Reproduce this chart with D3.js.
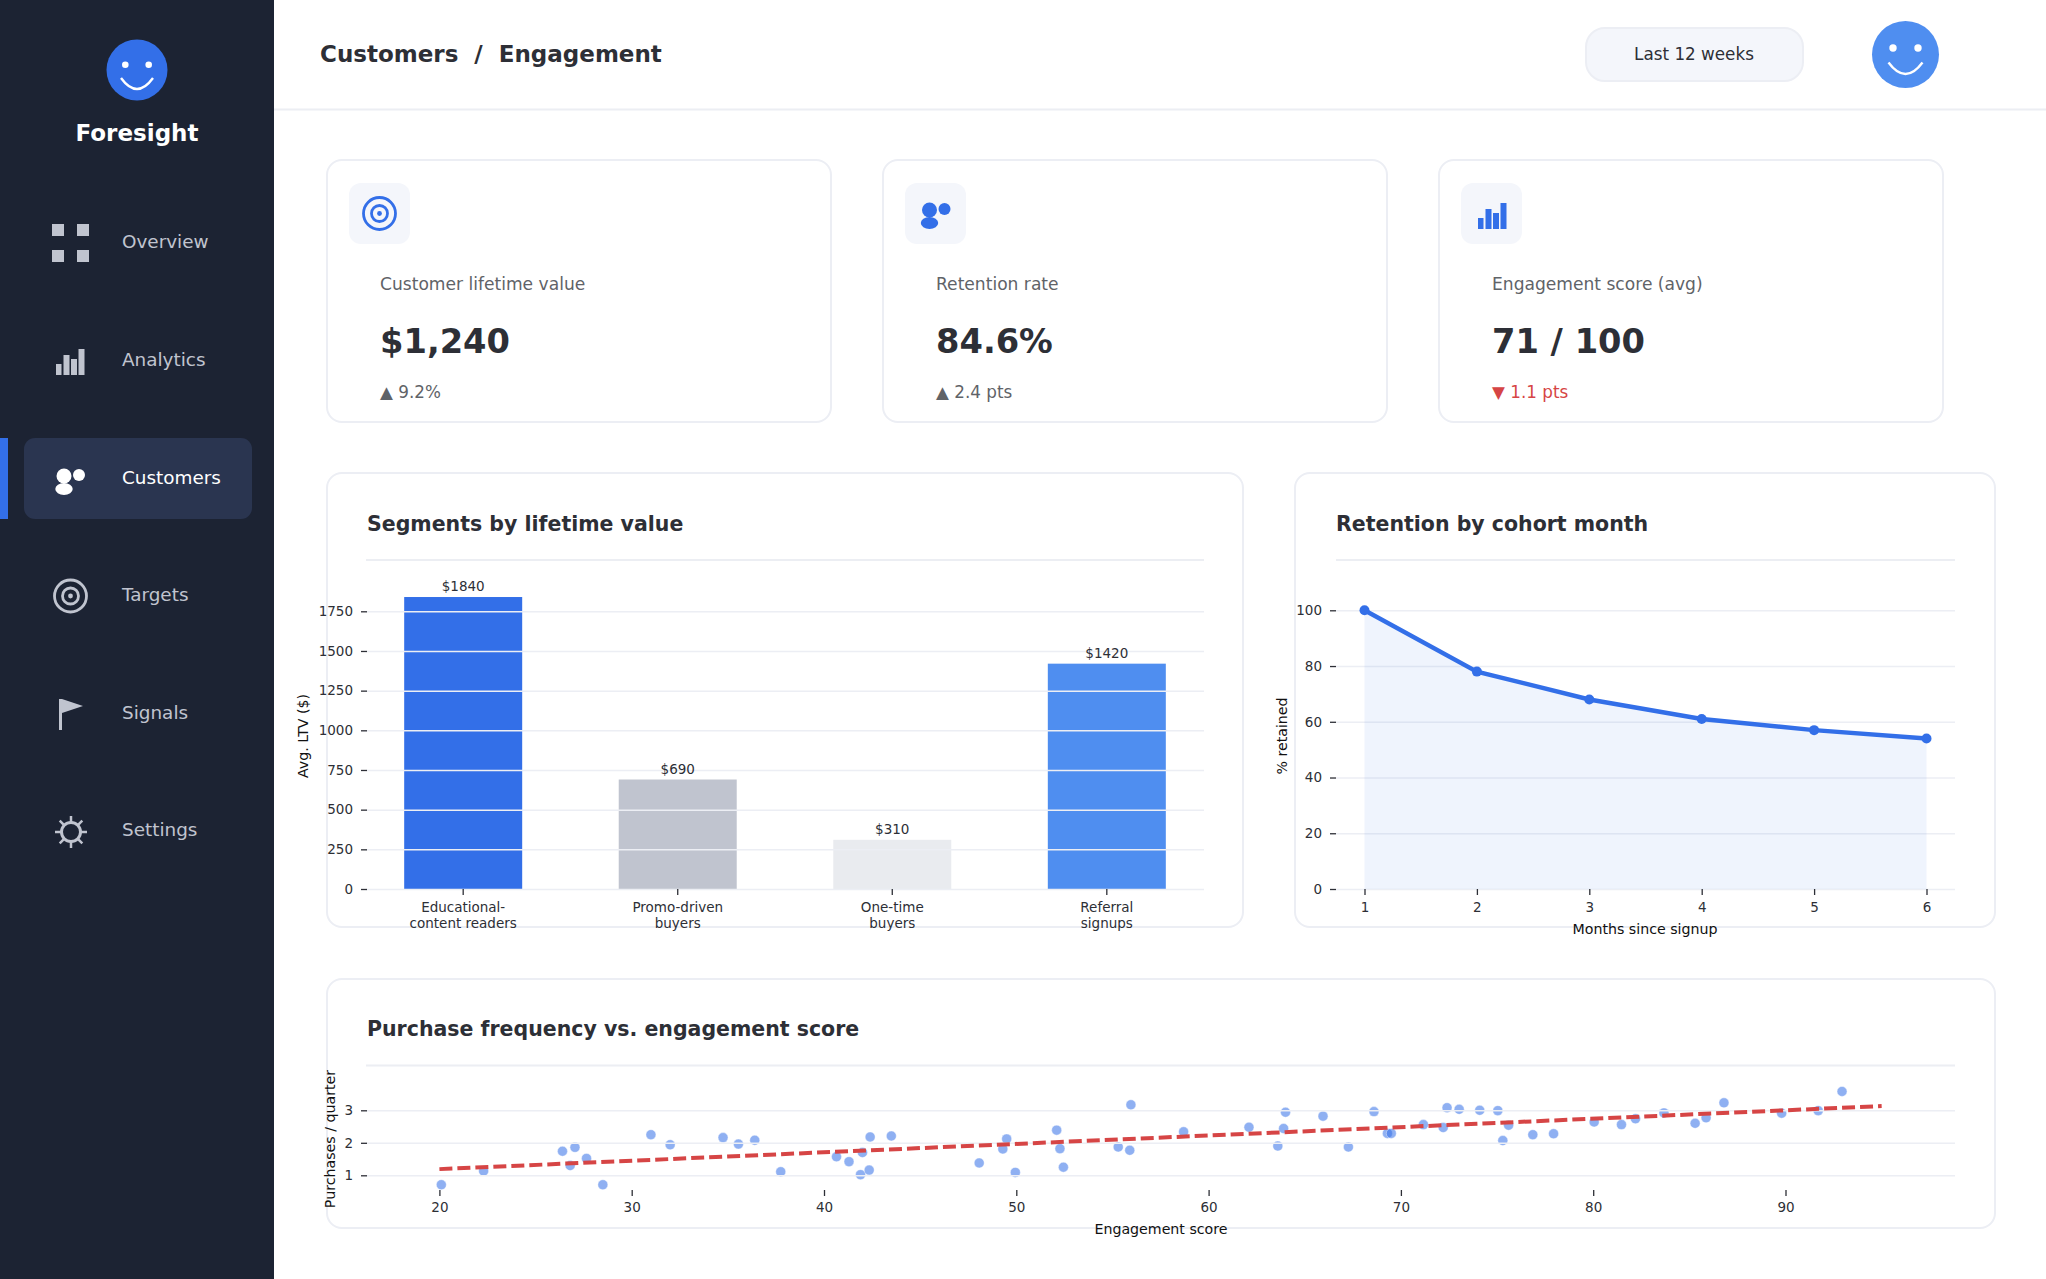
<!DOCTYPE html>
<html>
<head>
<meta charset="utf-8">
<title>Foresight - Customers / Engagement</title>
<script src="https://cdn.jsdelivr.net/npm/d3@7"></script>
<style>
	html, body { margin: 0; padding: 0; background: #fff; overflow: hidden; }
	svg { display: block; font-family: "DejaVu Sans", sans-serif; }
	.domain { display: none; }
	.axis { font-family: "DejaVu Sans", sans-serif; }
	.axis text { fill: #2d2f36; font-size: 13.5px; }
	.axis line { stroke: #2d2f36; stroke-width: 1.3; }
	.grid line { stroke: #eceef4; stroke-width: 1.5; }
	.grid text { display: none; }
	.axis-title { fill: #111; font-size: 14.2px; text-anchor: middle; }
</style>
</head>
<body>
<svg id="page" width="2046" height="1279"></svg>
<script>
//params
var BLUE = "#336fe8";
var LIGHT_BLUE = "#4f8ef0";
var SIDE_BG = "#1c2333";
var SIDE_TEXT = "#c0c4cf";
var INK = "#2d2f36";
var BORDER = "#eceef4";
var RED = "#d64545";

// kpi cards
var kpi_labels = ["Customer lifetime value", "Retention rate", "Engagement score (avg)"];
var kpi_values = ["$1,240", "84.6%", "71 / 100"];
var kpi_deltas = ["\u25B2 9.2%", "\u25B2 2.4 pts", "\u25BC 1.1 pts"];

// sidebar
var nav_labels = ["Overview", "Analytics", "Customers", "Targets", "Signals", "Settings"];

// segments chart
var segment_names = [["Educational-", "content readers"], ["Promo-driven", "buyers"], ["One-time", "buyers"], ["Referral", "signups"]];
var segment_ltv = [1840, 690, 310, 1420];
var segment_colors = [BLUE, "#c0c4cf", "#e9ebef", LIGHT_BLUE];
var ltv_ticks = [0, 250, 500, 750, 1000, 1250, 1500, 1750];

// retention chart
var months = [1, 2, 3, 4, 5, 6];
var retained = [100, 78, 68, 61, 57, 54];
var retained_ticks = [0, 20, 40, 60, 80, 100];

// scatter chart
var engagement = [20.1, 22.3, 26.4, 26.8, 27.05, 27.65, 28.5, 31.0, 32.0, 34.75, 35.55, 36.4, 37.75, 40.65, 41.3, 41.9, 42.0, 42.4, 42.35, 43.5,
	48.07, 49.3, 49.5, 49.95, 52.1, 52.27, 52.45, 55.3, 55.9, 55.96, 58.7, 62.1, 63.6, 63.9, 64.0, 65.95, 67.27, 68.6, 69.3, 69.5,
	71.17, 72.2, 72.4, 73.03, 74.1, 75.04, 75.3, 75.6, 76.86, 77.94, 80.05, 81.47, 82.2, 83.68, 85.3, 85.87, 86.8, 89.8, 91.7, 92.94];
var purchases = [0.71, 1.13, 1.74, 1.30, 1.86, 1.52, 0.71, 2.25, 1.94, 2.16, 1.96, 2.08, 1.11, 1.57, 1.42, 1.02, 1.70, 2.18, 1.16, 2.21,
	1.38, 1.81, 2.12, 1.09, 2.39, 1.82, 1.25, 1.87, 1.77, 3.17, 2.34, 2.48, 1.90, 2.44, 2.94, 2.82, 1.87, 2.96, 2.29, 2.29,
	2.56, 2.47, 3.08, 3.03, 3.00, 2.99, 2.07, 2.54, 2.25, 2.28, 2.64, 2.56, 2.74, 2.92, 2.60, 2.77, 3.23, 2.91, 2.99, 3.58];
var trend_x = [20, 95];
var trend_y = [1.19, 3.13];
var engagement_ticks = [20, 30, 40, 50, 60, 70, 80, 90];
var purchase_ticks = [1, 2, 3];

var svg = d3.select("#page");

function add_text(parent, x, y, str, size, color, weight, anchor)
{
	return parent.append("text")
		.attr("x", x)
		.attr("y", y)
		.attr("font-size", size)
		.attr("fill", color)
		.attr("font-weight", weight || "normal")
		.attr("text-anchor", anchor || "start")
		.attr("dominant-baseline", "alphabetic")
		.text(str);
}

function add_rect(parent, x0, y0, x1, y1, fill)
{
	return parent.append("rect")
		.attr("x", x0).attr("y", y0)
		.attr("width", x1 - x0).attr("height", y1 - y0)
		.attr("fill", fill);
}

function smiley(cx, cy, r, color, eye_dx, eye_dy, eye_r, smile_dx, smile_dy, smile_drop)
{
	var g = svg.append("g").attr("transform", "translate(" + cx + "," + cy + ")");
	g.append("circle").attr("r", r).attr("fill", color);
	g.append("circle").attr("cx", -eye_dx).attr("cy", eye_dy).attr("r", eye_r).attr("fill", "#fff");
	g.append("circle").attr("cx", eye_dx).attr("cy", eye_dy).attr("r", eye_r).attr("fill", "#fff");
	g.append("path")
		.attr("d", "M" + (-smile_dx) + "," + smile_dy + "Q0," + (smile_dy + smile_drop * 2) + " " + smile_dx + "," + smile_dy)
		.attr("fill", "none").attr("stroke", "#fff").attr("stroke-width", 2.4);
}

// small icons, used both in the sidebar and the kpi cards
function icon_target(cx, cy, color)
{
	var g = svg.append("g");
	[16, 8].forEach(function(r){
		g.append("circle").attr("cx", cx).attr("cy", cy).attr("r", r)
			.attr("fill", "none").attr("stroke", color).attr("stroke-width", 2.8);
	});
	g.append("circle").attr("cx", cx).attr("cy", cy).attr("r", 2.4).attr("fill", color);
}

function icon_people(cx, cy, color)
{
	var g = svg.append("g").attr("fill", color);
	g.append("circle").attr("cx", cx).attr("cy", cy).attr("r", 7.5);
	g.append("circle").attr("cx", cx + 15).attr("cy", cy - 1).attr("r", 6);
	g.append("ellipse").attr("cx", cx).attr("cy", cy + 13).attr("rx", 8.7).attr("ry", 6);
}

function icon_bars(x, y, color)
{
	var g = svg.append("g").attr("fill", color);
	add_rect(g, x, y + 15, x + 5.5, y + 26, color);
	add_rect(g, x + 7.5, y + 6, x + 13.5, y + 26, color);
	add_rect(g, x + 15, y + 10, x + 21, y + 26, color);
	add_rect(g, x + 22.5, y, x + 28.5, y + 26, color);
}

function draw_sidebar()
{
	add_rect(svg, 0, 0, 274, 1279, SIDE_BG);
	smiley(137, 70, 30.5, BLUE, 11.7, -5.3, 3.3, 16, 8, 11);
	add_text(svg, 137, 141, "Foresight", 23, "#fff", "bold", "middle");

	add_rect(svg, 0, 438, 8, 519, BLUE);
	add_rect(svg, 24, 438, 252, 519, "#2a3550").attr("rx", 11);

	var text_y = [241, 359.5, 477.5, 594.5, 712.5, 829.5];
	nav_labels.forEach(function(label, i){
		add_text(svg, 122, text_y[i] + 6.5, label, 18.4, label == "Customers" ? "#fff" : SIDE_TEXT);
	});

	// overview squares
	[[52, 224], [77, 224], [52, 250], [77, 250]].forEach(function(p){
		add_rect(svg, p[0], p[1], p[0] + 12, p[1] + 12, SIDE_TEXT);
	});
	icon_bars(56, 349, SIDE_TEXT);
	icon_people(64, 476, "#fff");
	icon_target(70.5, 596, SIDE_TEXT);
	// flag
	add_rect(svg, 59, 699, 62, 730, SIDE_TEXT);
	svg.append("path").attr("d", "M62,699L83,706L62,713Z").attr("fill", SIDE_TEXT);
	// gear
	var gear = svg.append("g").attr("transform", "translate(71,832)");
	gear.append("circle").attr("r", 9.5).attr("fill", "none").attr("stroke", SIDE_TEXT).attr("stroke-width", 3);
	d3.range(8).forEach(function(i){
		gear.append("line")
			.attr("x1", 9).attr("x2", 16)
			.attr("transform", "rotate(" + i * 45 + ")")
			.attr("stroke", SIDE_TEXT).attr("stroke-width", 2.5);
	});
}

function draw_header()
{
	add_rect(svg, 274, 108.5, 2046, 110.5, "#eceef3");
	add_text(svg, 320, 62, "Customers\u00A0\u00A0/\u00A0\u00A0Engagement", 23, INK, "bold");
	add_rect(svg, 1586, 28, 1803, 81, "#f4f6fb").attr("rx", 19).attr("stroke", BORDER).attr("stroke-width", 2);
	add_text(svg, 1694, 59.5, "Last 12 weeks", 16.8, INK, "normal", "middle");
	smiley(1905.5, 54.5, 33.5, LIGHT_BLUE, 12.5, -6.5, 3.7, 17, 8, 11.5);
}

function card(x0, y0, x1, y1)
{
	add_rect(svg, x0, y0, x1, y1, "#fff").attr("rx", 15).attr("stroke", BORDER).attr("stroke-width", 2);
}

function draw_kpis()
{
	var kpi_step = 556;
	kpi_labels.forEach(function(label, i){
		var dx = i * kpi_step;
		card(327 + dx, 160, 831 + dx, 422);
		add_rect(svg, 349 + dx, 183, 410 + dx, 244, "#f4f6fb").attr("rx", 12);
		add_text(svg, 380 + dx, 290, label, 17.1, "#5f6368");
		add_text(svg, 380 + dx, 353, kpi_values[i], 33.7, INK, "bold");
		add_text(svg, 380 + dx, 397.5, kpi_deltas[i], 16.8, i == 2 ? RED : "#5f6368");
	});
	icon_target(379.5, 213.5, BLUE);
	icon_people(929.5, 210, BLUE);
	icon_bars(1478, 203, BLUE);
}

function chart_title(x, y, str, line_x0, line_x1, line_y)
{
	add_text(svg, x, y + 1, str, 20.5, INK, "bold");
	add_rect(svg, line_x0, line_y - 1, line_x1, line_y + 1, "#eceef3");
}

function y_grid(scale, ticks, x0, x1)
{
	svg.append("g")
		.attr("class", "grid")
		.attr("transform", "translate(" + x0 + ",0)")
		.call(d3.axisLeft(scale).tickValues(ticks).tickSize(-(x1 - x0)));
}

function y_axis(scale, ticks, x)
{
	svg.append("g")
		.attr("class", "axis")
		.attr("transform", "translate(" + x + ",0)")
		.call(d3.axisLeft(scale).tickValues(ticks).tickSize(6).tickPadding(8).tickFormat(d3.format("d")));
}

function x_axis(axis, y)
{
	return svg.append("g")
		.attr("class", "axis")
		.attr("transform", "translate(0," + y + ")")
		.call(axis);
}

function rotated_title(x, y, str)
{
	svg.append("text")
		.attr("class", "axis-title")
		.attr("transform", "translate(" + x + "," + y + ") rotate(-90)")
		.text(str);
}

function draw_segments()
{
	card(327, 473, 1243, 927);
	chart_title(367, 530, "Segments by lifetime value", 366, 1204, 560);

	var x = d3.scaleBand().domain(d3.range(segment_ltv.length)).range([366, 1204]).paddingInner(0.45).paddingOuter(0.178);
	var y = d3.scaleLinear().domain([0, 1750]).range([889, 611.3]);

	svg.append("g").selectAll("rect").data(segment_ltv).enter().append("rect")
		.attr("x", function(d, i){ return x(i); })
		.attr("y", function(d){ return y(d); })
		.attr("width", x.bandwidth())
		.attr("height", function(d){ return y(0) - y(d); })
		.attr("fill", function(d, i){ return segment_colors[i]; });

	y_grid(y, ltv_ticks, 366, 1204);
	y_axis(y, ltv_ticks, 367);

	svg.append("g").selectAll("text").data(segment_ltv).enter().append("text")
		.attr("x", function(d, i){ return x(i) + x.bandwidth() / 2; })
		.attr("y", function(d){ return y(d) - 6; })
		.attr("text-anchor", "middle")
		.attr("font-size", 13.5)
		.attr("fill", INK)
		.text(function(d){ return "$" + d; });

	var xaxis = x_axis(d3.axisBottom(x).tickSize(6).tickPadding(4).tickFormat(""), 889);
	xaxis.selectAll(".tick").each(function(d){
		var t = d3.select(this).select("text").attr("y", 23).attr("dy", null);
		t.selectAll("tspan").data(segment_names[d]).enter().append("tspan")
			.attr("x", 0)
			.attr("dy", function(n, i){ return i ? 16.3 : 0; })
			.text(function(n){ return n; });
	});
	rotated_title(308, 736, "Avg. LTV ($)");
}

function draw_retention()
{
	card(1295, 473, 1995, 927);
	chart_title(1336, 530, "Retention by cohort month", 1336, 1955, 560);

	var x = d3.scaleLinear().domain([1, 6]).range([1364.5, 1926.5]);
	var y = d3.scaleLinear().domain([0, 100]).range([889, 610.3]);

	y_grid(y, retained_ticks, 1336, 1955);

	svg.append("path")
		.datum(months)
		.attr("fill", BLUE)
		.attr("fill-opacity", 0.08)
		.attr("d", d3.area()
			.x(function(d){ return x(d); })
			.y0(y(0))
			.y1(function(d, i){ return y(retained[i]); }));
	svg.append("path")
		.datum(months)
		.attr("fill", "none")
		.attr("stroke", BLUE)
		.attr("stroke-width", 4.4)
		.attr("d", d3.line()
			.x(function(d){ return x(d); })
			.y(function(d, i){ return y(retained[i]); }));
	svg.append("g").selectAll("circle").data(months).enter().append("circle")
		.attr("cx", function(d){ return x(d); })
		.attr("cy", function(d, i){ return y(retained[i]); })
		.attr("r", 5)
		.attr("fill", BLUE);

	y_axis(y, retained_ticks, 1336);
	x_axis(d3.axisBottom(x).tickValues(months).tickSize(6).tickPadding(7).tickFormat(d3.format("d")), 889);
	svg.append("text").attr("class", "axis-title").attr("x", 1645).attr("y", 933.5).text("Months since signup");
	rotated_title(1287, 736, "% retained");
}

function draw_scatter()
{
	card(327, 979, 1995, 1228);
	chart_title(367, 1035, "Purchase frequency vs. engagement score", 366, 1955, 1065.5);

	var x = d3.scaleLinear().domain([20, 90]).range([439.4, 1785.5]);
	var y = d3.scaleLinear().domain([1, 3]).range([1175.3, 1110.3]);

	svg.append("g").selectAll("circle").data(engagement).enter().append("circle")
		.attr("cx", function(d){ return x(d); })
		.attr("cy", function(d, i){ return y(purchases[i]); })
		.attr("r", 5)
		.attr("fill", BLUE)
		.attr("fill-opacity", 0.55)
		.attr("stroke", "#fff")
		.attr("stroke-opacity", 0.5)
		.attr("stroke-width", 0.8);

	y_grid(y, purchase_ticks, 366, 1955);

	svg.append("path")
		.datum(trend_x)
		.attr("fill", "none")
		.attr("stroke", RED)
		.attr("stroke-width", 4)
		.attr("stroke-dasharray", "13,5")
		.attr("d", d3.line()
			.x(function(d){ return x(d); })
			.y(function(d, i){ return y(trend_y[i]); }));

	y_axis(y, purchase_ticks, 367);
	x_axis(d3.axisBottom(x).tickValues(engagement_ticks).tickSize(6).tickPadding(6), 1190);
	svg.append("text").attr("class", "axis-title").attr("x", 1161).attr("y", 1234).text("Engagement score");
	rotated_title(335, 1139, "Purchases / quarter");
}

draw_sidebar();
draw_header();
draw_kpis();
draw_segments();
draw_retention();
draw_scatter();
</script>
</body>
</html>
